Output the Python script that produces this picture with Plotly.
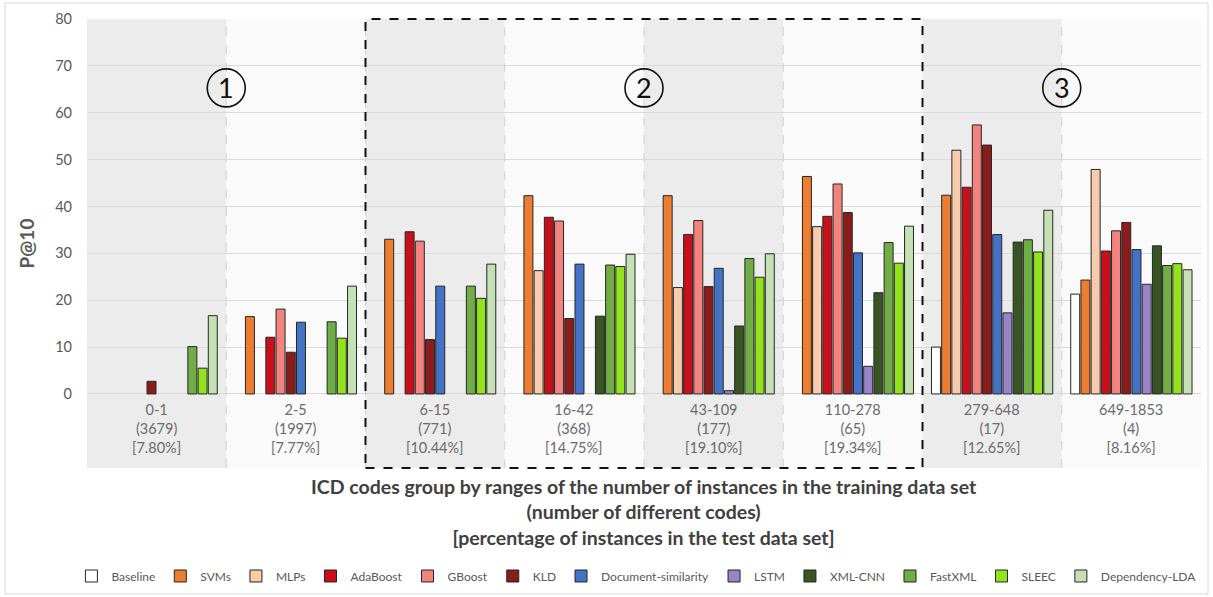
import plotly.graph_objects as go

groups = ["0-1", "2-5", "6-15", "16-42", "43-109", "110-278", "279-648", "649-1853"]
n_codes = ["(3679)", "(1997)", "(771)", "(368)", "(177)", "(65)", "(17)", "(4)"]
pct_test = ["[7.80%]", "[7.77%]", "[10.44%]", "[14.75%]", "[19.10%]", "[19.34%]", "[12.65%]", "[8.16%]"]

methods = ["Baseline", "SVMs", "MLPs", "AdaBoost", "GBoost", "KLD", "Document-similarity",
           "LSTM", "XML-CNN", "FastXML", "SLEEC", "Dependency-LDA"]
colors = ["#FFFFFF", "#ED7D31", "#F8CBAD", "#C8101A", "#F4837F", "#8B1C1C", "#4472C4",
          "#9A84C8", "#375623", "#70AD47", "#92E21C", "#C5E0B4"]

N = None
baseline = [N, N, N, N, N, N, 10.0, 21.3]
svms = [N, 16.5, 33.0, 42.3, 42.3, 46.4, 42.4, 24.3]
mlps = [N, N, N, 26.3, 22.7, 35.7, 52.0, 47.9]
adaboost = [N, 12.1, 34.6, 37.7, 34.0, 37.9, 44.1, 30.5]
gboost = [N, 18.1, 32.6, 36.9, 37.0, 44.8, 57.4, 34.8]
kld = [2.7, 8.9, 11.6, 16.1, 22.9, 38.7, 53.1, 36.6]
docsim = [N, 15.3, 23.0, 27.7, 26.8, 30.1, 34.0, 30.8]
lstm = [N, N, N, N, 0.7, 5.9, 17.3, 23.4]
xmlcnn = [N, N, N, 16.6, 14.5, 21.6, 32.4, 31.6]
fastxml = [10.1, 15.4, 23.0, 27.5, 28.9, 32.3, 32.9, 27.4]
sleec = [5.5, 11.9, 20.4, 27.2, 24.9, 27.9, 30.3, 27.8]
deplda = [16.7, 23.0, 27.7, 29.8, 29.9, 35.8, 39.2, 26.5]

series = [baseline, svms, mlps, adaboost, gboost, kld, docsim, lstm, xmlcnn, fastxml, sleec, deplda]

FONT = "Lato"
fig = go.Figure()
for name, col, vals in zip(methods, colors, series):
    fig.add_trace(go.Bar(name=name, x=groups, y=vals, marker_color=col,
                         marker_line_color="#262626", marker_line_width=1))

shapes = []
for i in range(len(groups)):
    shapes.append(dict(type="rect", xref="x", yref="paper", x0=i - 0.5, x1=i + 0.5, y0=0, y1=1,
                       fillcolor="#ECECEC" if i % 2 == 0 else "#FAFAFA", line_width=0, layer="below"))
for i in range(len(groups) - 1):
    shapes.append(dict(type="line", xref="x", yref="paper", x0=i + 0.5, x1=i + 0.5, y0=0, y1=1,
                       line=dict(color="#CFCFCF", width=1, dash="dash"), layer="below"))
# dashed box around region 2
shapes.append(dict(type="rect", xref="x", yref="paper", x0=1.5, x1=5.5, y0=0, y1=1,
                   line=dict(color="#111111", width=2, dash="dash"), fillcolor="rgba(0,0,0,0)", layer="above"))
# outer border
shapes.append(dict(type="rect", xref="paper", yref="paper", x0=-0.0736, x1=1.0063, y0=-0.2806, y1=1.0356,
                   line=dict(color="#D9D9D9", width=1), fillcolor="rgba(0,0,0,0)", layer="below"))

annotations = []
for g, c, p in zip(groups, n_codes, pct_test):
    annotations.append(dict(x=g, y=-1.0, xref="x", yref="y", yanchor="top", showarrow=False,
                            text=f"{g}<br>{c}<br>{p}", align="center",
                            font=dict(family=FONT, size=14.5, color="#6B6B6B")))
region_labels = ["1", "2", "3"]
region_pos = [0.5, 3.5, 6.5]
for lab, xp in zip(region_labels, region_pos):
    shapes.append(dict(type="circle", xref="x", yref="y", xsizemode="pixel", ysizemode="pixel",
                       xanchor=xp, yanchor=65.3, x0=-19, x1=19, y0=-19, y1=19,
                       line=dict(color="#111111", width=1.6), fillcolor="rgba(0,0,0,0)", layer="above"))
    annotations.append(dict(x=xp, y=65.3, xref="x", yref="y", text=lab, showarrow=False,
                            font=dict(family=FONT, size=27, color="#111111")))
annotations.append(dict(x=0.5, y=-0.012, xref="paper", yref="paper", yanchor="top", showarrow=False,
                        text="<b>ICD codes group by ranges of the number of instances in the training data set</b><br>"
                             "<b>(number of different codes)</b><br><b>[percentage of instances in the test data set]</b>",
                        align="center", font=dict(family=FONT, size=19.5, color="#404040")))

fig.update_layout(
    width=1213, height=597,
    margin=dict(l=87, r=12, t=19, b=129, autoexpand=False),
    paper_bgcolor="white", plot_bgcolor="white",
    barmode="group", bargap=0.12, bargroupgap=0.12,
    font=dict(family=FONT, color="#595959"),
    shapes=shapes, annotations=annotations,
    showlegend=True,
    legend=dict(orientation="h", xref="paper", x=-0.014, xanchor="left", y=-0.2405, yanchor="middle",
                font=dict(family=FONT, size=12, color="#595959"), itemwidth=30,
                traceorder="normal", bgcolor="rgba(0,0,0,0)"),
    xaxis=dict(showticklabels=False, showgrid=False, zeroline=False, showline=False, ticks="",
               automargin=False),
    yaxis=dict(range=[-15.8, 80], tickvals=[0, 10, 20, 30, 40, 50, 60, 70, 80], showgrid=True,
               gridcolor="#D9D9D9", gridwidth=1, zeroline=False, showline=False, ticks="",
               automargin=False,
               ticklabelstandoff=14, tickfont=dict(family=FONT, size=14.5, color="#595959"),
               title=dict(text="<b>P@10</b>", standoff=15, font=dict(family=FONT, size=19, color="#595959"))),
)

fig.write_html("out.html", config={"displayModeBar": False},
               post_script="document.body.style.margin='0';")
